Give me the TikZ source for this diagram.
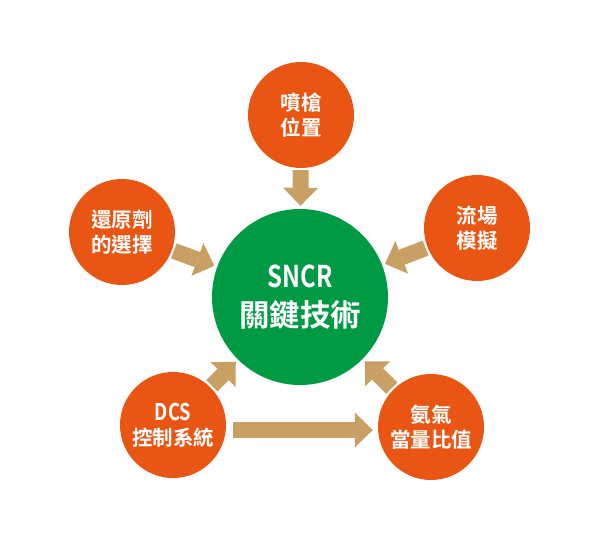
\documentclass[tikz,border=0pt]{standalone}
\usepackage{fontspec}
\newfontfamily\cjkb{Noto Sans CJK TC Bold}
\newfontfamily\latb[FakeStretch=0.8]{Noto Sans CJK TC Bold}
\usetikzlibrary{arrows.meta}
\definecolor{orangec}{HTML}{E95614}
\definecolor{greenc}{HTML}{009944}
\definecolor{tanc}{HTML}{C8A064}
\tikzset{
  small/.style={circle, fill=orangec, inner sep=0pt, minimum size=106pt, text=white, align=center,
    font=\cjkb\fontsize{20.5}{25}\selectfont},
  big/.style={circle, fill=greenc, inner sep=0pt, minimum size=176pt, text=white, align=center,
    font=\cjkb\fontsize{30.5}{39}\selectfont},
  fat/.style={draw=tanc, line width=16pt, -{Triangle[length=18pt 0 0, width=35pt 0 0, line width=0pt 0 0, fill=tanc]},
    shorten <=2pt, shorten >=3pt}
}
\begin{document}
\begin{tikzpicture}[x=1pt,y=1pt]
\useasboundingbox (0,0) rectangle (600,542);
\node[big] (g) at (300,245) {{\latb\fontsize{30}{39}\selectfont SNCR}\\關鍵技術};
\node[small] (top) at (301,427) {噴槍\\位置};
\node[small] (left) at (122,310) {還原劑\\的選擇};
\node[small] (right) at (477,314) {流場\\模擬};
\node[small] (dcs) at (173,117) {{\latb\fontsize{23}{25}\selectfont DCS}\\控制系統};
\node[small] (amm) at (431,115) {氨氣\\當量比值};
\draw[fat] (top) -- (g);
\draw[fat] (left) -- (g);
\draw[fat] (right) -- (g);
\draw[fat] (dcs) -- (g);
\draw[fat] (amm) -- (g);
\draw[fat, shorten <=7pt, shorten >=5pt] ([yshift=-5pt]dcs.east) -- ([yshift=-3pt]amm.west);
\end{tikzpicture}
\end{document}
